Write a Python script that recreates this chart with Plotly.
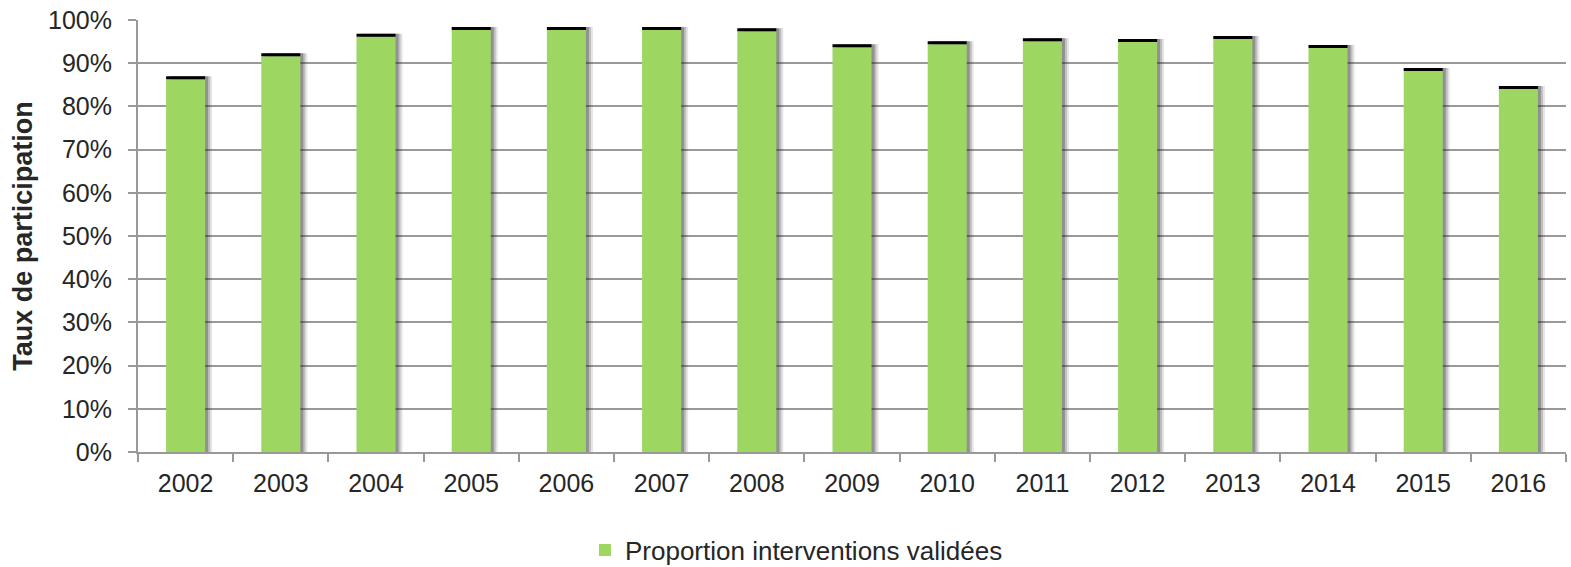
import plotly.graph_objects as go

years = ["2002", "2003", "2004", "2005", "2006", "2007", "2008", "2009",
         "2010", "2011", "2012", "2013", "2014", "2015", "2016"]
proportion = [86.3, 91.6, 96.1, 97.7, 97.7, 97.7, 97.4, 93.7,
              94.4, 95.1, 94.9, 95.6, 93.5, 88.2, 84.0]
cap = [0.7] * len(years)
totals = [p + c for p, c in zip(proportion, cap)]
y_ticks = [0, 10, 20, 30, 40, 50, 60, 70, 80, 90, 100]
y_tick_labels = [f"{v}%" for v in y_ticks]

series_name = "Proportion interventions validées"
y_title = "Taux de participation"

BAR_W = 0.41
PX = 1 / 95.2  # one pixel in category units

fig = go.Figure()

# soft shadow layers (right side)
for k, a in [(7, 0.12), (5, 0.2), (3, 0.3)]:
    fig.add_trace(go.Bar(
        x=years, y=totals, xaxis="x", yaxis="y",
        width=BAR_W, offset=-BAR_W / 2 + k * PX,
        marker=dict(color=f"rgba(40,40,40,{a})", line=dict(width=0)),
        showlegend=False, hoverinfo="skip",
    ))

fig.add_trace(go.Bar(
    x=years, y=proportion, name=series_name, xaxis="x2", yaxis="y",
    width=BAR_W, offset=-BAR_W / 2,
    marker=dict(color="#9dd762", line=dict(width=0)),
))
fig.add_trace(go.Bar(
    x=years, y=cap, base=proportion, xaxis="x2", yaxis="y",
    width=BAR_W, offset=-BAR_W / 2,
    marker=dict(color="#000000", line=dict(width=0)),
    showlegend=False,
))

font = dict(family="Liberation Sans, Arial, sans-serif", size=25, color="#262626")

fig.update_layout(
    width=1571, height=567,
    margin=dict(l=138, r=5, t=20, b=115, autoexpand=False),
    paper_bgcolor="white", plot_bgcolor="white",
    barmode="overlay",
    font=font,
    showlegend=True,
    legend=dict(orientation="h", x=0.313, xanchor="left",
                yref="container", y=0.03, yanchor="middle",
                font=dict(size=26, color="#262626"), itemclick=False),
    xaxis=dict(type="category", range=[-0.5, 14.5], showline=True, linecolor="#999999",
               linewidth=2, ticks="outside", tickson="boundaries", ticklen=8,
               tickcolor="#999999", tickwidth=2, showgrid=False, tickfont=font,
               ticklabelstandoff=8, automargin=False),
    xaxis2=dict(type="category", overlaying="x", range=[-0.5, 14.5], visible=False),
    yaxis=dict(range=[0, 100], tickvals=y_ticks, ticktext=y_tick_labels,
               showline=True, linecolor="#999999", linewidth=2,
               ticks="outside", ticklen=8, tickcolor="#999999", tickwidth=2,
               showgrid=True, gridcolor="#999999", gridwidth=2, zeroline=False,
               tickfont=font, ticklabelstandoff=11, automargin=False,
               title=dict(text="<b>" + y_title + "</b>", font=dict(size=27, color="#262626"),
                          standoff=8)),
)

fig.write_html("out.html")
